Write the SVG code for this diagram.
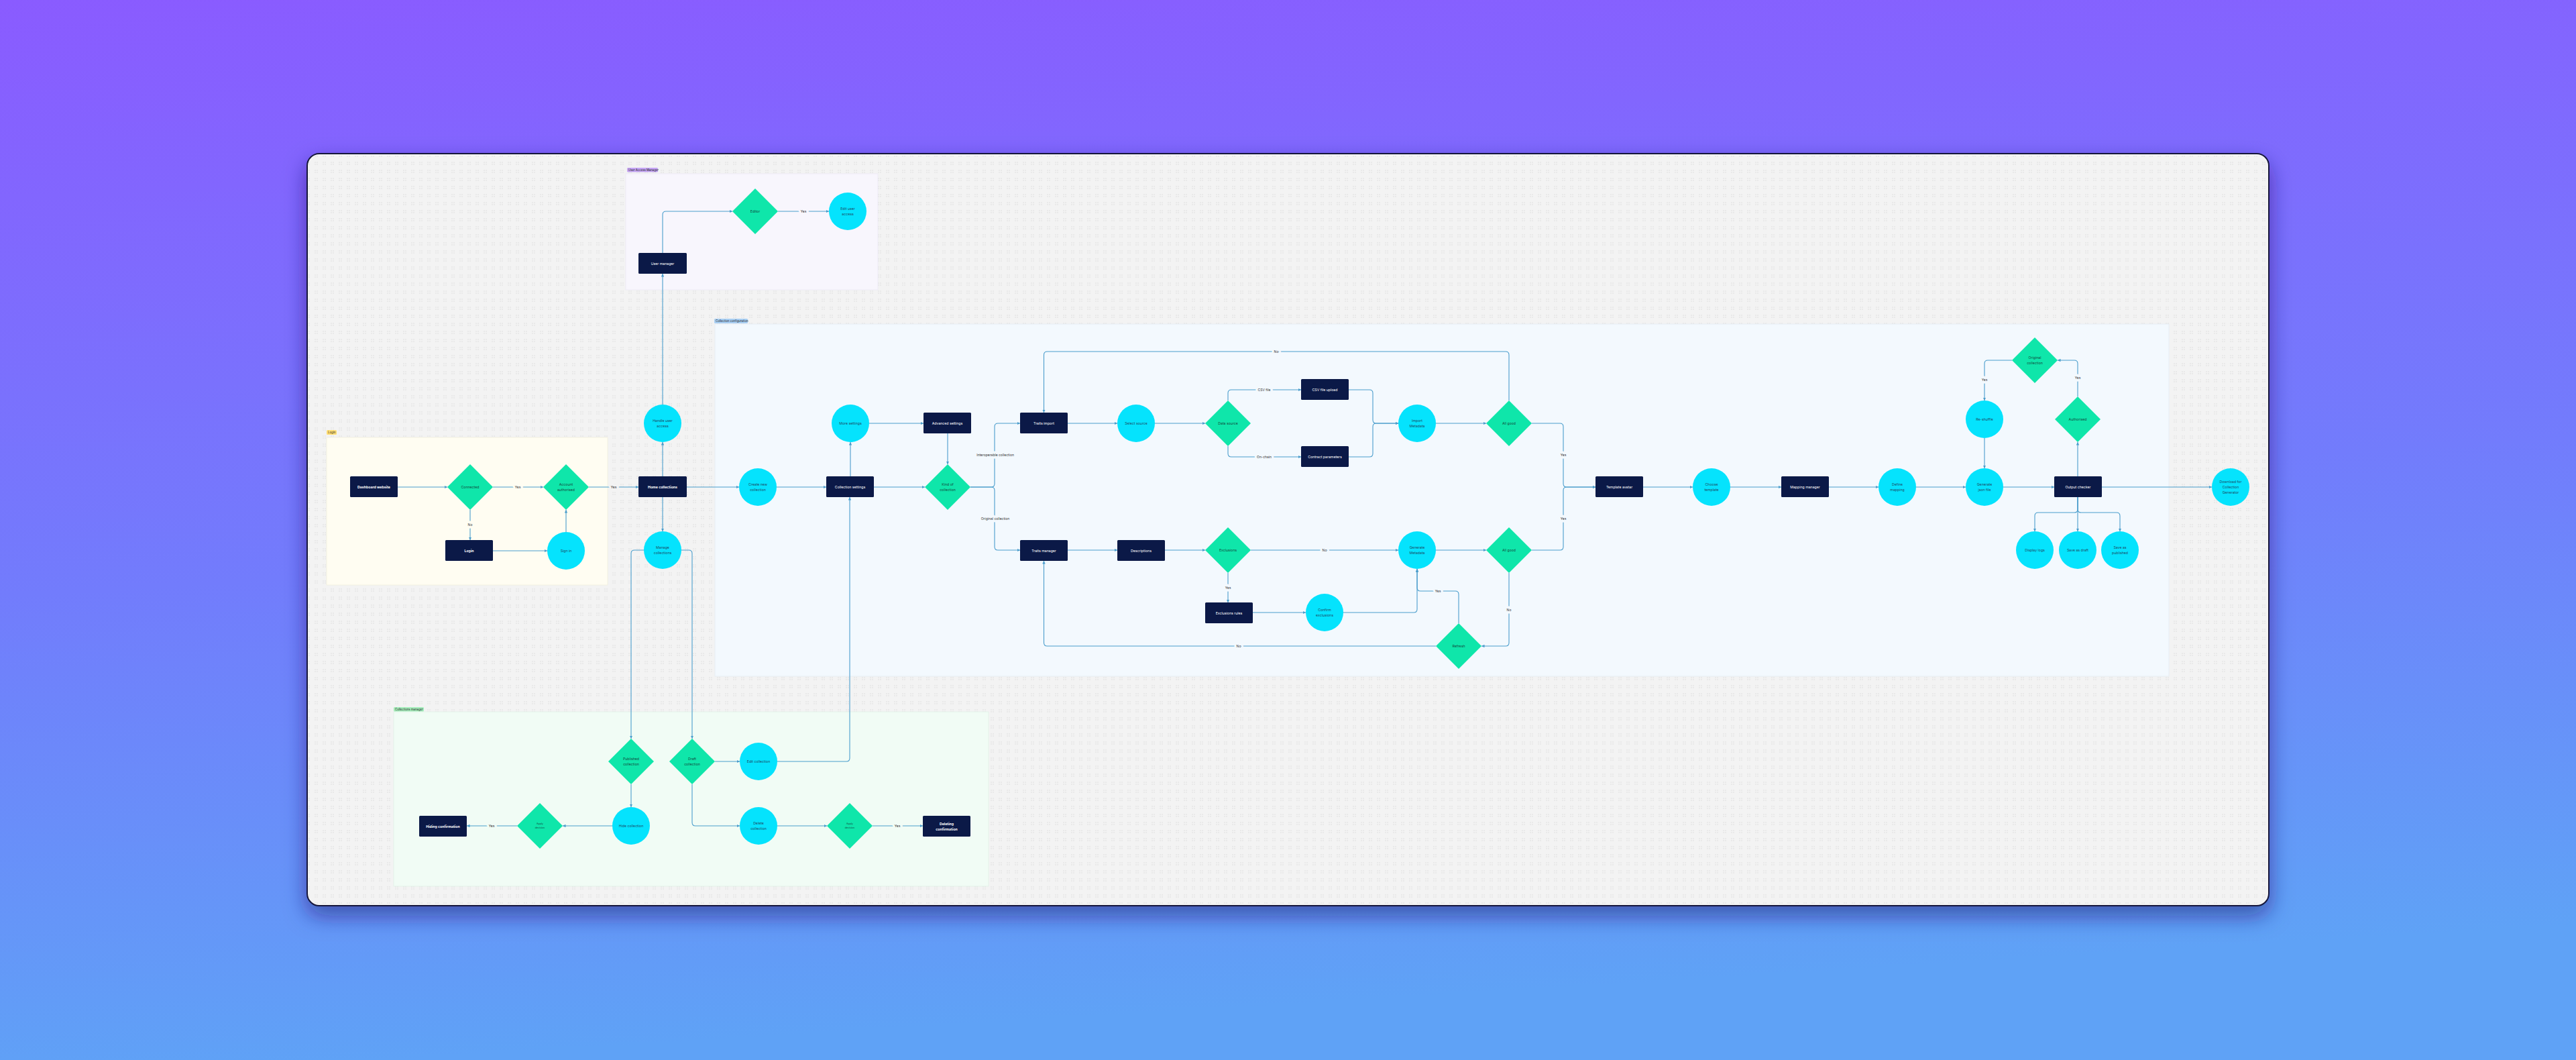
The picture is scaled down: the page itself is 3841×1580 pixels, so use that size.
<svg xmlns="http://www.w3.org/2000/svg" width="3841" height="1580" viewBox="0 0 3841 1580">
<defs>
<linearGradient id="bg" x1="0" y1="0" x2="0.15" y2="1">
<stop offset="0" stop-color="#8a5bff"/>
<stop offset="0.55" stop-color="#727cfc"/>
<stop offset="1" stop-color="#5fa2f6"/>
</linearGradient>
<pattern id="dots" width="12" height="12" patternUnits="userSpaceOnUse">
<circle cx="2" cy="2" r="0.8" fill="#dcdcdc"/>
<circle cx="5" cy="2" r="0.8" fill="#dcdcdc"/>
<circle cx="2" cy="5" r="0.8" fill="#dcdcdc"/>
<circle cx="5" cy="5" r="0.8" fill="#dcdcdc"/>
</pattern>
<filter id="shadow" x="-5%" y="-10%" width="110%" height="125%">
<feDropShadow dx="0" dy="14" stdDeviation="16" flood-color="#1d1670" flood-opacity="0.55"/>
</filter>
<marker id="arr" viewBox="0 0 10 10" refX="10" refY="5" markerWidth="4.5" markerHeight="4.5" markerUnits="userSpaceOnUse" orient="auto">
<path d="M0,0 L10,5 L0,10 z" fill="#4a9dcc"/>
</marker>
<style>
.grp text{font-family:Inter,"Open Sans","Liberation Sans",sans-serif}
text{font-family:Inter,"Open Sans","Liberation Sans",sans-serif;text-anchor:middle;dominant-baseline:central}
.r{fill:#0b1947}
.d{fill:#0fe6aa}
.c{fill:#05e3fd}
.tr{fill:#ffffff;font-size:5.2px}
.trb{fill:#ffffff;font-size:5.2px;font-weight:700}
.td{fill:#124b40;font-size:5.2px}
.tc{fill:#1d4a66;font-size:5.2px}
.e{fill:none;stroke:#4a9dcc;stroke-width:1.1;marker-end:url(#arr)}
.l{fill:#333333;font-size:5px;paint-order:stroke;stroke-width:7px;stroke-linejoin:round}
.ly{stroke:#fffdf2}
.lp{stroke:#f8f6fd}
.lb{stroke:#f3f9fe}
.lg{stroke:#f1fcf5}
.lc{stroke:#f3f3f3}
.tag{font-size:4.3px;fill:#222;text-anchor:start}
</style>
</defs>
<rect x="0" y="0" width="3841" height="1580" fill="url(#bg)"/>
<rect x="458" y="229" width="2925" height="1121" rx="18" fill="#f3f3f3" stroke="#15163a" stroke-width="2" filter="url(#shadow)"/>
<rect x="460" y="231" width="2921" height="1117" rx="17" fill="url(#dots)"/>

<g id="groups">
<g id="grp-login">
<rect x="487" y="652" width="419" height="220" fill="#fffdf2" stroke="#f1eedd" stroke-width="0.8"/>
<rect x="487" y="641" width="15" height="7" rx="1.5" fill="#ffdf75"/>
<text class="tag" x="489" y="644.5">Login</text>
</g>
<g id="grp-uam">
<rect x="933" y="259" width="376" height="173" fill="#f8f6fd" stroke="#ece8f5" stroke-width="0.8"/>
<rect x="935" y="250" width="46" height="6.5" rx="1.5" fill="#c6a6f6"/>
<text class="tag" x="937" y="253.3">User Access Manager</text>
</g>
<g id="grp-config">
<rect x="1066" y="483" width="2168" height="525" fill="#f3f9fe" stroke="#e3ecf3" stroke-width="0.8"/>
<rect x="1065" y="475" width="50" height="7" rx="1.5" fill="#a9d0f5"/>
<text class="tag" x="1067" y="478.5">Collection configuration</text>
</g>
<g id="grp-manager">
<rect x="587" y="1061" width="887" height="260" fill="#f1fcf5" stroke="#e1f0e6" stroke-width="0.8"/>
<rect x="587" y="1054" width="45" height="6.5" rx="1.5" fill="#a6eebc"/>
<text class="tag" x="589" y="1057.3">Collections manager</text>
</g>
</g>

<g id="connectors">
<path class="e" d="M593 726 H667"/>
<path class="e" d="M735 726 H810"/>
<path class="e" d="M701 760 V805"/>
<path class="e" d="M735 821 H816"/>
<path class="e" d="M844 793 V760"/>
<path class="e" d="M878 726 H952"/>
<path class="e" d="M988 710 V659"/>
<path class="e" d="M988 603 V408"/>
<path class="e" d="M988 377 V320 Q988 315 993 315 H1092"/>
<path class="e" d="M1160 315 H1236"/>
<path class="e" d="M988 741 V792"/>
<path class="e" d="M1024 726 H1102"/>
<path class="e" d="M960 820 H946 Q941 820 941 825 V1101"/>
<path class="e" d="M1016 820 H1027 Q1032 820 1032 825 V1101"/>
<path class="e" d="M1158 726 H1232"/>
<path class="e" d="M1268 710 V659"/>
<path class="e" d="M1296 631 H1377"/>
<path class="e" d="M1413 646 V692"/>
<path class="e" d="M1303 726 H1379"/>
<path class="e" d="M1447 726 H1478 Q1483 726 1483 721 V636 Q1483 631 1488 631 H1521"/>
<path class="e" d="M1447 726 H1478 Q1483 726 1483 731 V815 Q1483 820 1488 820 H1521"/>
<path class="e" d="M1592 631 H1666"/>
<path class="e" d="M1722 631 H1797"/>
<path class="e" d="M1831 597 V586 Q1831 581 1836 581 H1940"/>
<path class="e" d="M1831 665 V676 Q1831 681 1836 681 H1940"/>
<path class="e" d="M2011 581 H2042 Q2047 581 2047 586 V626 Q2047 631 2052 631 H2085"/>
<path class="e" d="M2011 681 H2042 Q2047 681 2047 676 V636 Q2047 631 2052 631 H2085"/>
<path class="e" d="M2141 631 H2216"/>
<path class="e" d="M2250 597 V529 Q2250 524 2245 524 H1561.5 Q1556.5 524 1556.5 529 V615"/>
<path class="e" d="M2284 631 H2326 Q2331 631 2331 636 V721 Q2331 726 2336 726 H2379"/>
<path class="e" d="M2284 820 H2326 Q2331 820 2331 815 V731 Q2331 726 2336 726 H2379"/>
<path class="e" d="M1592 820 H1666"/>
<path class="e" d="M1737 820 H1797"/>
<path class="e" d="M1865 820 H2085"/>
<path class="e" d="M2141 820 H2216"/>
<path class="e" d="M1831 854 V898"/>
<path class="e" d="M1868 913 H1947"/>
<path class="e" d="M2003 913 H2108 Q2113 913 2113 908 V848"/>
<path class="e" d="M2175 929 V886 Q2175 881 2170 881 H2118 Q2113 881 2113 876 V848"/>
<path class="e" d="M2250 854 V958 Q2250 963 2245 963 H2209"/>
<path class="e" d="M2141 963 H1561.5 Q1556.5 963 1556.5 958 V836"/>
<path class="e" d="M2450 726 H2524"/>
<path class="e" d="M2580 726 H2656"/>
<path class="e" d="M2727 726 H2801"/>
<path class="e" d="M2857 726 H2931"/>
<path class="e" d="M2987 726 H3063"/>
<path class="e" d="M3098 710 V659"/>
<path class="e" d="M3098 591 V542 Q3098 537 3093 537 H3068"/>
<path class="e" d="M3000 537 H2964 Q2959 537 2959 542 V597"/>
<path class="e" d="M2959 653 V698"/>
<path class="e" d="M3134 726 H3298"/>
<path class="e" d="M3098 741 V759 Q3098 764 3093 764 H3039 Q3034 764 3034 769 V792"/>
<path class="e" d="M3098 741 V792"/>
<path class="e" d="M3098 741 V759 Q3098 764 3103 764 H3156 Q3161 764 3161 769 V792"/>
<path class="e" d="M1066 1135 H1103"/>
<path class="e" d="M1159 1135 H1262 Q1267 1135 1267 1130 V741"/>
<path class="e" d="M941 1169 V1203"/>
<path class="e" d="M913 1231 H839"/>
<path class="e" d="M771 1231 H696"/>
<path class="e" d="M1032 1169 V1226 Q1032 1231 1037 1231 H1103"/>
<path class="e" d="M1159 1231 H1233"/>
<path class="e" d="M1301 1231 H1376"/>
<g id="edge-labels">
<text class="l ly" x="772" y="726">Yes</text>
<text class="l ly" x="701" y="782">No</text>
<text class="l lc" x="915" y="726">Yes</text>
<text class="l lp" x="1198" y="315">Yes</text>
<text class="l lb" x="1484" y="678">Interoperable collection</text>
<text class="l lb" x="1484" y="773">Original collection</text>
<text class="l lb" x="1885" y="581">CSV file</text>
<text class="l lb" x="1885" y="681">On-chain</text>
<text class="l lb" x="1903" y="524">No</text>
<text class="l lb" x="2331" y="678">Yes</text>
<text class="l lb" x="2331" y="773">Yes</text>
<text class="l lb" x="1975" y="820">No</text>
<text class="l lb" x="1831" y="876">Yes</text>
<text class="l lb" x="2144" y="881">Yes</text>
<text class="l lb" x="2250" y="909">No</text>
<text class="l lb" x="1847" y="963">No</text>
<text class="l lb" x="3098" y="563">Yes</text>
<text class="l lb" x="2959" y="566">Yes</text>
<text class="l lg" x="733" y="1231">Yes</text>
<text class="l lg" x="1338" y="1231">Yes</text>
</g>
</g>

<g id="n-dashboard"><rect class="r" x="522" y="710" width="71" height="31" rx="1.5"/><text class="trb" x="557.5" y="725.5">Dashboard website</text></g>
<g id="n-connected"><polygon class="d" points="701,692 735,726 701,760 667,726"/><text class="td" x="701" y="726">Connected</text></g>
<g id="n-account"><polygon class="d" points="844,692 878,726 844,760 810,726"/><text class="td" x="844" y="726"><tspan x="844" dy="-4">Account</tspan><tspan x="844" dy="8">authorised</tspan></text></g>
<g id="n-login"><rect class="r" x="664" y="805" width="71" height="31" rx="1.5"/><text class="trb" x="699.5" y="820.5">Login</text></g>
<g id="n-signin"><circle class="c" cx="844" cy="821" r="28"/><text class="tc" x="844" y="821">Sign in</text></g>

<g id="n-usermgr"><rect class="r" x="952" y="377" width="72" height="31" rx="1.5"/><text class="tr" x="988" y="392.5">User manager</text></g>
<g id="n-editor"><polygon class="d" points="1126,281 1160,315 1126,349 1092,315"/><text class="td" x="1126" y="315">Editor</text></g>
<g id="n-edituser"><circle class="c" cx="1264" cy="315" r="28"/><text class="tc" x="1264" y="315"><tspan x="1264" dy="-4">Edit user</tspan><tspan x="1264" dy="8">access</tspan></text></g>

<g id="n-handle"><circle class="c" cx="988" cy="631" r="28"/><text class="tc" x="988" y="631"><tspan x="988" dy="-4">Handle user</tspan><tspan x="988" dy="8">access</tspan></text></g>
<g id="n-home"><rect class="r" x="952" y="710" width="72" height="31" rx="1.5"/><text class="trb" x="988" y="725.5">Home collections</text></g>
<g id="n-manage"><circle class="c" cx="988" cy="820" r="28"/><text class="tc" x="988" y="820"><tspan x="988" dy="-4">Manage</tspan><tspan x="988" dy="8">collections</tspan></text></g>

<g id="n-create"><circle class="c" cx="1130" cy="726" r="28"/><text class="tc" x="1130" y="726"><tspan x="1130" dy="-4">Create new</tspan><tspan x="1130" dy="8">collection</tspan></text></g>
<g id="n-colset"><rect class="r" x="1232" y="710" width="71" height="31" rx="1.5"/><text class="tr" x="1267.5" y="725.5">Collection settings</text></g>
<g id="n-more"><circle class="c" cx="1268" cy="631" r="28"/><text class="tc" x="1268" y="631">More settings</text></g>
<g id="n-adv"><rect class="r" x="1377" y="615" width="71" height="31" rx="1.5"/><text class="tr" x="1412.5" y="630.5">Advanced settings</text></g>
<g id="n-kind"><polygon class="d" points="1413,692 1447,726 1413,760 1379,726"/><text class="td" x="1413" y="726"><tspan x="1413" dy="-4">Kind of</tspan><tspan x="1413" dy="8">collection</tspan></text></g>
<g id="n-timport"><rect class="r" x="1521" y="615" width="71" height="31" rx="1.5"/><text class="tr" x="1556.5" y="630.5">Traits import</text></g>
<g id="n-tmgr"><rect class="r" x="1521" y="805" width="71" height="31" rx="1.5"/><text class="tr" x="1556.5" y="820.5">Traits manager</text></g>
<g id="n-select"><circle class="c" cx="1694" cy="631" r="28"/><text class="tc" x="1694" y="631">Select source</text></g>
<g id="n-dsrc"><polygon class="d" points="1831,597 1865,631 1831,665 1797,631"/><text class="td" x="1831" y="631">Data source</text></g>
<g id="n-csv"><rect class="r" x="1940" y="565" width="71" height="31" rx="1.5"/><text class="tr" x="1975.5" y="580.5">CSV file upload</text></g>
<g id="n-contract"><rect class="r" x="1940" y="665" width="71" height="31" rx="1.5"/><text class="tr" x="1975.5" y="680.5">Contract parameters</text></g>
<g id="n-impmeta"><circle class="c" cx="2113" cy="631" r="28"/><text class="tc" x="2113" y="631"><tspan x="2113" dy="-4">Import</tspan><tspan x="2113" dy="8">Metadata</tspan></text></g>
<g id="n-allgood1"><polygon class="d" points="2250,597 2284,631 2250,665 2216,631"/><text class="td" x="2250" y="631">All good</text></g>
<g id="n-desc"><rect class="r" x="1666" y="805" width="71" height="31" rx="1.5"/><text class="tr" x="1701.5" y="820.5">Descriptions</text></g>
<g id="n-excl"><polygon class="d" points="1831,786 1865,820 1831,854 1797,820"/><text class="td" x="1831" y="820">Exclusions</text></g>
<g id="n-genmeta"><circle class="c" cx="2113" cy="820" r="28"/><text class="tc" x="2113" y="820"><tspan x="2113" dy="-4">Generate</tspan><tspan x="2113" dy="8">Metadata</tspan></text></g>
<g id="n-allgood2"><polygon class="d" points="2250,786 2284,820 2250,854 2216,820"/><text class="td" x="2250" y="820">All good</text></g>
<g id="n-exrules"><rect class="r" x="1797" y="898" width="71" height="31" rx="1.5"/><text class="tr" x="1832.5" y="913.5">Exclusions rules</text></g>
<g id="n-confirm"><circle class="c" cx="1975" cy="913" r="28"/><text class="tc" x="1975" y="913"><tspan x="1975" dy="-4">Confirm</tspan><tspan x="1975" dy="8">exclusions</tspan></text></g>
<g id="n-refresh"><polygon class="d" points="2175,929 2209,963 2175,997 2141,963"/><text class="td" x="2175" y="963">Refresh</text></g>
<g id="n-tavatar"><rect class="r" x="2379" y="710" width="71" height="31" rx="1.5"/><text class="tr" x="2414.5" y="725.5">Template avatar</text></g>
<g id="n-choose"><circle class="c" cx="2552" cy="726" r="28"/><text class="tc" x="2552" y="726"><tspan x="2552" dy="-4">Choose</tspan><tspan x="2552" dy="8">template</tspan></text></g>
<g id="n-mapping"><rect class="r" x="2656" y="710" width="71" height="31" rx="1.5"/><text class="tr" x="2691.5" y="725.5">Mapping manager</text></g>
<g id="n-define"><circle class="c" cx="2829" cy="726" r="28"/><text class="tc" x="2829" y="726"><tspan x="2829" dy="-4">Define</tspan><tspan x="2829" dy="8">mapping</tspan></text></g>
<g id="n-genjson"><circle class="c" cx="2959" cy="726" r="28"/><text class="tc" x="2959" y="726"><tspan x="2959" dy="-4">Generate</tspan><tspan x="2959" dy="8">json file</tspan></text></g>
<g id="n-output"><rect class="r" x="3063" y="710" width="71" height="31" rx="1.5"/><text class="tr" x="3098.5" y="725.5">Output checker</text></g>
<g id="n-reshuffle"><circle class="c" cx="2959" cy="625" r="28"/><text class="tc" x="2959" y="625">Re-shuffle</text></g>
<g id="n-auth"><polygon class="d" points="3098,591 3132,625 3098,659 3064,625"/><text class="td" x="3098" y="625">Authorised</text></g>
<g id="n-orig"><polygon class="d" points="3034,503 3068,537 3034,571 3000,537"/><text class="td" x="3034" y="537"><tspan x="3034" dy="-4">Original</tspan><tspan x="3034" dy="8">collection</tspan></text></g>
<g id="n-logs"><circle class="c" cx="3034" cy="820" r="28"/><text class="tc" x="3034" y="820">Display logs</text></g>
<g id="n-savedraft"><circle class="c" cx="3098" cy="820" r="28"/><text class="tc" x="3098" y="820">Save as draft</text></g>
<g id="n-savepub"><circle class="c" cx="3161" cy="820" r="28"/><text class="tc" x="3161" y="820"><tspan x="3161" dy="-4">Save as</tspan><tspan x="3161" dy="8">published</tspan></text></g>
<g id="n-download"><circle class="c" cx="3326" cy="726" r="28"/><text class="tc" x="3326" y="726"><tspan x="3326" dy="-8">Download for</tspan><tspan x="3326" dy="8">Collection</tspan><tspan x="3326" dy="8">Generator</tspan></text></g>

<g id="n-pubcol"><polygon class="d" points="941,1101 975,1135 941,1169 907,1135"/><text class="td" x="941" y="1135"><tspan x="941" dy="-4">Published</tspan><tspan x="941" dy="8">collection</tspan></text></g>
<g id="n-draftcol"><polygon class="d" points="1032,1101 1066,1135 1032,1169 998,1135"/><text class="td" x="1032" y="1135"><tspan x="1032" dy="-4">Draft</tspan><tspan x="1032" dy="8">collection</tspan></text></g>
<g id="n-editcol"><circle class="c" cx="1131" cy="1135" r="28"/><text class="tc" x="1131" y="1135">Edit collection</text></g>
<g id="n-hide"><circle class="c" cx="941" cy="1231" r="28"/><text class="tc" x="941" y="1231">Hide collection</text></g>
<g id="n-apply1"><polygon class="d" points="805,1197 839,1231 805,1265 771,1231"/><text class="td" x="805" y="1231" style="font-size:3.6px"><tspan x="805" dy="-3">Apply</tspan><tspan x="805" dy="6">decision</tspan></text></g>
<g id="n-hiding"><rect class="r" x="625" y="1216" width="71" height="31" rx="1.5"/><text class="trb" x="660.5" y="1231.5">Hiding confirmation</text></g>
<g id="n-delete"><circle class="c" cx="1131" cy="1231" r="28"/><text class="tc" x="1131" y="1231"><tspan x="1131" dy="-4">Delete</tspan><tspan x="1131" dy="8">collection</tspan></text></g>
<g id="n-apply2"><polygon class="d" points="1267,1197 1301,1231 1267,1265 1233,1231"/><text class="td" x="1267" y="1231" style="font-size:3.6px"><tspan x="1267" dy="-3">Apply</tspan><tspan x="1267" dy="6">decision</tspan></text></g>
<g id="n-deleting"><rect class="r" x="1376" y="1216" width="71" height="31" rx="1.5"/><text class="trb" x="1411.5" y="1231.5"><tspan x="1411.5" dy="-4">Deleting</tspan><tspan x="1411.5" dy="8">confirmation</tspan></text></g>
</svg>
